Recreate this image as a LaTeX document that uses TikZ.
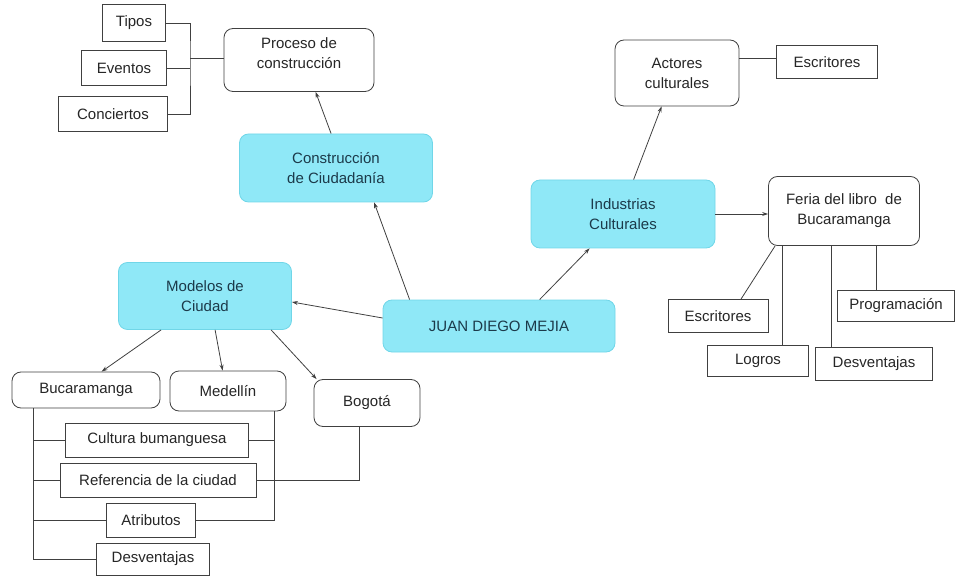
\documentclass[tikz,border=0pt]{standalone}
\usepackage{fontspec}
\setmainfont{Liberation Sans}
\usepackage{xcolor}
\usepackage{tikz}
\usetikzlibrary{arrows.meta}

\definecolor{mapfill}{RGB}{143,232,247}
\definecolor{mapedge}{RGB}{112,214,232}
\definecolor{maptext}{RGB}{28,58,74}

\tikzset{
  mainbox/.style={draw=mapedge, fill=mapfill, rounded corners=9pt, text=maptext,
    align=center, inner sep=0pt, line width=0.8pt},
  subbox/.style={draw=black!75, fill=white, rounded corners=9pt, text=black!85,
    align=center, inner sep=0pt, line width=0.8pt},
  leafbox/.style={draw=black!75, fill=white, text=black!85, align=center,
    inner sep=0pt, line width=0.8pt},
  link/.style={draw=black!75, line width=0.8pt, -{Stealth[length=6pt,width=4pt]}},
  tie/.style={draw=black!75, line width=0.8pt}
}

\begin{document}
\begin{tikzpicture}[x=1pt,y=-1pt, font=\fontsize{15}{20}\selectfont]
    \useasboundingbox (0,0) rectangle (955,577);
    % central nodes
    \node[mainbox, minimum width=232, minimum height=52] (juan) at (499,326) {JUAN DIEGO MEJIA};
    \node[mainbox, minimum width=193, minimum height=68] (constr) at (336,168) {Construcción\\de Ciudadanía};
    \node[mainbox, minimum width=184, minimum height=68] (indus) at (623,214) {Industrias\\Culturales};
    \node[mainbox, minimum width=173, minimum height=67] (modelos) at (205,296) {Modelos de\\Ciudad};

    % upper left branch
    \node[subbox, minimum width=150, minimum height=63] (proceso) at (299,60) {Proceso de\\construcción\\[-6pt]};
    \node[leafbox, minimum width=63, minimum height=37] (tipos) at (134,23) {Tipos};
    \node[leafbox, minimum width=85, minimum height=35] (eventos) at (124,68) {Eventos};
    \node[leafbox, minimum width=109, minimum height=35] (conciertos) at (113,114) {Conciertos};
    \coordinate (busproc) at (190,58);

    % right branch
    \node[subbox, minimum width=124, minimum height=66] (actores) at (677,73) {Actores\\culturales};
    \node[leafbox, minimum width=101, minimum height=33] (escrtop) at (827,62) {Escritores};
    \node[subbox, minimum width=151, minimum height=69] (feria) at (844,211) {Feria del libro~~de\\Bucaramanga};
    \node[leafbox, minimum width=100, minimum height=33] (escrfer) at (718,316) {Escritores};
    \node[leafbox, minimum width=101, minimum height=31] (logros) at (758,361) {Logros};
    \node[leafbox, minimum width=117, minimum height=33] (desvfer) at (874,364) {Desventajas};
    \node[leafbox, minimum width=117, minimum height=31] (progra) at (896,306) {Programación};

    % lower left branch
    \node[subbox, minimum width=148, minimum height=36] (buca) at (86,390) {Bucaramanga};
    \node[subbox, minimum width=116, minimum height=40] (medellin) at (228,391) {Medellín};
    \node[subbox, minimum width=106, minimum height=47] (bogota) at (367,403) {Bogotá};
    \node[leafbox, minimum width=183, minimum height=34] (cultura) at (157,440) {Cultura bumanguesa};
    \node[leafbox, minimum width=196, minimum height=34] (referencia) at (158,480) {Referencia de la ciudad};
    \node[leafbox, minimum width=89, minimum height=34] (atributos) at (151,520) {Atributos};
    \node[leafbox, minimum width=113, minimum height=32] (desvbuca) at (153,559) {Desventajas};
    \coordinate (busbuca) at (33,408);
    \coordinate (busmed) at (274,411);

    % arrows from the center
    \draw[link] ([xshift=27pt]juan.north west) -- ([xshift=135pt]constr.south west);
    \draw[link] ([xshift=157pt]juan.north west) -- ([xshift=59pt]indus.south west);
    \draw[link] ([yshift=8pt]juan.west) -- ([yshift=-6pt]modelos.east);
    \draw[link] ([xshift=92pt]constr.north west) -- ([xshift=92pt]proceso.south west);
    \draw[link] ([xshift=103pt]indus.north west) -- ([xshift=47pt]actores.south west);
    \draw[link] (indus.east) -- (indus.east -| feria.west);
    \draw[link] ([xshift=43pt]modelos.south west) -- ([xshift=90pt]buca.north west);
    \draw[link] ([xshift=97pt]modelos.south west) -- ([xshift=53pt]medellin.north west);
    \draw[link] ([xshift=153pt]modelos.south west) -- ([xshift=3pt]bogota.north west);

    % plain lines
    \draw[tie] (tipos.east) -| (busproc) |- (conciertos.east);
    \draw[tie] (eventos.east) -- (eventos.east -| busproc);
    \draw[tie] (busproc) -- (busproc -| proceso.west);
    \draw[tie] ([yshift=15pt]actores.east) -- ([yshift=15pt]actores.east -| escrtop.west);
    \draw[tie] ([xshift=7pt]feria.south west) -- ([xshift=23pt]escrfer.north);
    \draw[tie] ([xshift=14pt]feria.south west) -- ([xshift=14pt]feria.south west |- logros.north);
    \draw[tie] ([xshift=63pt]feria.south west) -- ([xshift=63pt]feria.south west |- desvfer.north);
    \draw[tie] ([xshift=108pt]feria.south west) -- ([xshift=108pt]feria.south west |- progra.north);
    \draw[tie] (busbuca) |- (desvbuca.west);
    \foreach \leaf in {cultura,referencia,atributos}
    \draw[tie] (\leaf.west) -- (\leaf.west -| busbuca);
    \draw[tie] (busmed) |- (atributos.east);
    \draw[tie] (cultura.east) -- (cultura.east -| busmed);
    \draw[tie] ([xshift=-8pt]bogota.south) |- (referencia.east);
\end{tikzpicture}
\end{document}
